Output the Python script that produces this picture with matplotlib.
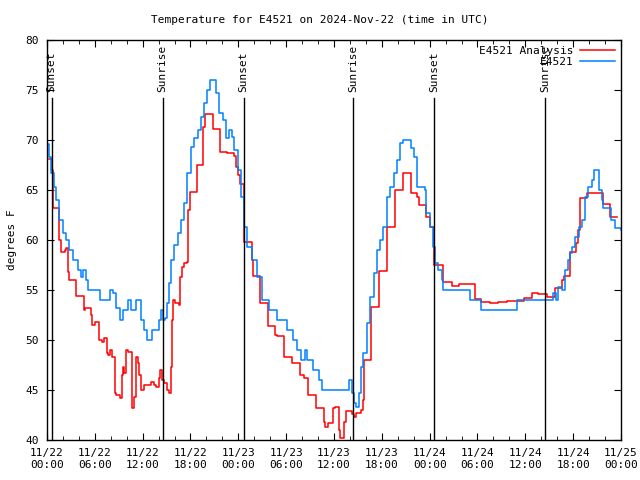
import datetime as dt
import matplotlib
matplotlib.use("Agg")
import matplotlib.pyplot as plt
import matplotlib.dates as mdates

# hours after 2024-11-22 00:00 UTC
obs_hours = [0.0, 0.2, 0.5, 0.83, 1.1, 1.54, 1.96, 2.38, 2.8, 3.2, 3.84, 4.26, 4.5, 4.9, 5.2,
             6.7, 7.9, 8.3, 8.65, 9.19, 9.5, 10.2, 10.5, 11.2, 11.8, 12.2, 12.5, 13.2, 14.08,
             14.3, 14.5, 14.8, 15.0, 15.3, 15.5, 15.96, 16.4, 16.8, 17.2, 17.6, 18.05, 18.5,
             18.9, 19.3, 19.7, 20.1, 20.5, 21.2, 21.6, 22.1, 22.5, 22.85, 23.2, 23.5, 23.9,
             24.3, 24.66, 25.08, 25.7, 26.3, 26.96, 27.8, 28.8, 30.1, 30.9, 31.3, 31.9, 32.3,
             32.6, 33.4, 34.1, 34.5, 37.9, 38.2, 38.45, 38.7, 39.1, 39.4, 39.7, 40.1, 40.5,
             40.96, 41.4, 41.8, 42.2, 42.6, 43.05, 43.5, 43.9, 44.3, 44.7, 45.6, 46.0, 46.4,
             47.4, 47.6, 48.1, 48.4, 48.7, 49.1, 49.5, 49.7, 53.1, 54.5, 58.9, 63.5, 63.8,
             64.1, 64.6, 65.0, 65.4, 65.6, 65.8, 66.2, 66.7, 67.07, 67.5, 67.9, 68.3, 68.6,
             69.2, 69.6, 69.8, 70.8, 71.3, 72.0]
obs_temp = [69.6, 68.3, 66.7, 65.3, 64.0, 62.0, 60.7, 60.0, 59.0, 58.0, 57.0, 56.3, 57.0, 56.0, 55.0,
            54.0, 55.0, 54.7, 53.2, 52.0, 53.0, 54.0, 53.0, 54.0, 52.0, 51.0, 50.0, 51.0, 52.0,
            53.0, 52.0, 52.2, 53.7, 55.7, 58.0, 59.5, 60.7, 62.0, 63.7, 66.7, 69.3, 70.2,
            71.0, 72.3, 73.7, 75.0, 76.0, 74.7, 72.7, 72.0, 70.2, 71.0, 70.3, 69.0, 67.0,
            64.3, 61.3, 59.3, 58.0, 56.3, 54.0, 53.0, 52.0, 51.0, 50.0, 49.0, 48.0, 49.0,
            48.0, 47.0, 46.0, 45.0, 46.0, 44.7, 43.7, 43.3, 44.7, 47.3, 48.7, 51.7, 54.3,
            56.7, 59.0, 60.0, 61.3, 64.3, 65.3, 66.7, 68.0, 69.7, 70.0, 69.2, 68.3, 65.3,
            65.0, 62.7, 61.3, 59.3, 57.7, 57.0, 56.0, 55.0, 54.0, 53.0, 54.0, 54.7, 54.0,
            55.3, 55.0, 57.0, 58.0, 58.7, 59.3, 60.3, 61.3, 62.0, 64.3, 65.3, 66.0, 67.0,
            65.0, 64.0, 63.2, 62.0, 61.2, 61.0]

ana_hours = [0.3, 0.6, 0.7, 1.5, 1.75, 2.2, 2.4, 2.6, 2.7, 3.6, 3.7, 4.6, 4.8, 5.5, 5.7, 6.0,
             6.56, 6.9, 7.18, 7.5, 7.7, 7.9, 8.2, 8.56, 8.7, 9.19, 9.36, 9.5, 9.7, 9.9, 10.1,
             10.6, 10.7, 10.95, 11.15, 11.36, 11.6, 11.8, 12.2, 13.0, 13.4, 13.7, 14.0, 14.2,
             14.4, 14.7, 15.0, 15.3, 15.5, 15.7, 15.8, 16.0, 16.5, 16.7, 16.9, 17.2, 17.5,
             17.7, 18.0, 18.8, 19.6, 19.8, 20.8, 21.7, 22.6, 23.5, 23.7, 23.9, 24.2, 24.66,
             25.7, 25.8, 26.75, 27.7, 28.6, 28.8, 29.76, 30.7, 31.76, 32.2, 32.8, 33.8, 34.7,
             34.9, 35.2, 35.9, 36.1, 36.6, 36.7, 37.3, 37.5, 38.2, 38.45, 38.7, 39.4, 39.6,
             39.8, 40.6, 41.7, 42.7, 43.6, 44.7, 45.7, 46.4, 46.7, 47.6, 48.1, 48.6, 49.7,
             50.8, 51.7, 53.7, 54.5, 55.6, 56.6, 57.7, 59.8, 60.8, 61.6, 62.7, 63.7, 64.6,
             64.8, 65.6, 66.4, 66.65, 66.9, 67.7, 69.7, 70.6, 71.5]
ana_temp = [68.1, 67.0, 63.2, 60.0, 58.8, 59.0, 59.2, 56.8, 56.0, 55.0, 54.4, 53.0, 53.2, 52.5, 51.5, 51.8,
            50.0, 49.8, 50.2, 48.7, 48.5, 49.0, 48.3, 44.7, 44.5, 44.2, 46.5, 47.3, 46.7, 49.0, 48.8,
            44.7, 43.2, 44.3, 48.3, 47.7, 46.5, 45.0, 45.5, 45.8, 45.5, 45.3, 46.2, 47.0,
            46.0, 45.7, 45.0, 44.7, 47.3, 52.0, 54.0, 53.7, 53.5, 56.3, 57.3, 57.7, 57.8,
            63.0, 64.8, 67.5, 71.3, 72.6, 71.1, 68.8, 68.7, 68.4, 67.3, 66.5, 65.6, 59.8,
            58.0, 56.4, 53.7, 51.4, 50.5, 50.4, 48.3, 47.7, 46.5, 46.2, 44.5, 43.2, 41.8,
            41.3, 41.7, 43.2, 43.3, 41.0, 40.2, 41.8, 42.9, 42.6, 42.3, 42.7, 43.0, 44.0,
            48.0, 53.3, 56.9, 61.3, 65.0, 66.7, 64.7, 64.3, 63.5, 62.3, 61.3, 57.5, 55.8,
            55.4, 55.6, 54.1, 53.8, 53.7, 53.8, 53.9, 54.2, 54.7, 54.6, 54.3, 55.2, 56.0,
            56.4, 58.8, 59.7, 61.0, 64.2, 64.7, 63.6, 62.3, 62.3]

sun_hours = [0.58, 14.49, 24.65, 38.44, 48.6, 62.5]
sun_labels = ["Sunset", "Sunrise", "Sunset", "Sunrise", "Sunset", "Sunrise"]

start = dt.datetime(2024, 11, 22)
def to_time(hours):
    return [start + dt.timedelta(hours=h) for h in hours]

plt.rcParams["font.family"] = "DejaVu Sans Mono"
plt.rcParams["font.size"] = 8

fig = plt.figure(figsize=(6.4, 4.8), dpi=100)
ax = fig.add_axes([47 / 640, 40 / 480, 574 / 640, 400 / 480])

ax.plot(to_time(ana_hours), ana_temp, color="#ff0000", lw=1.1, drawstyle="steps-post",
        label="E4521 Analysis")
ax.plot(to_time(obs_hours), obs_temp, color="#0080ff", lw=1.1, drawstyle="steps-post",
        label="E4521")

for h, lab in zip(sun_hours, sun_labels):
    t = start + dt.timedelta(hours=h)
    ax.plot([t, t], [40, 74.2], color="black", lw=1)
    ax.text(t, 74.8, lab, rotation=90, ha="center", va="bottom", fontsize=8)

ax.set_xlim(start, start + dt.timedelta(hours=72))
ax.set_ylim(40, 80)
ax.set_yticks(range(40, 81, 5))
ax.xaxis.set_major_locator(mdates.HourLocator(byhour=[0, 6, 12, 18]))
ax.xaxis.set_minor_locator(mdates.HourLocator(interval=2))
ax.xaxis.set_major_formatter(mdates.DateFormatter("%m/%d\n%H:%M"))
ax.tick_params(which="both", direction="in", top=True, right=True)
ax.tick_params(which="major", length=5, pad=6)
ax.tick_params(which="minor", length=3)
for s in ax.spines.values():
    s.set_linewidth(1)

ax.set_ylabel("degrees F", labelpad=6)
fig.suptitle("Temperature for E4521 on 2024-Nov-22 (time in UTC)", y=0.968, fontsize=8)

ax.legend(loc="upper right", frameon=False, markerfirst=False, handlelength=3.2,
          borderaxespad=0.1, labelspacing=0.1, handletextpad=0.6)

fig.savefig("out.png", dpi=100)
